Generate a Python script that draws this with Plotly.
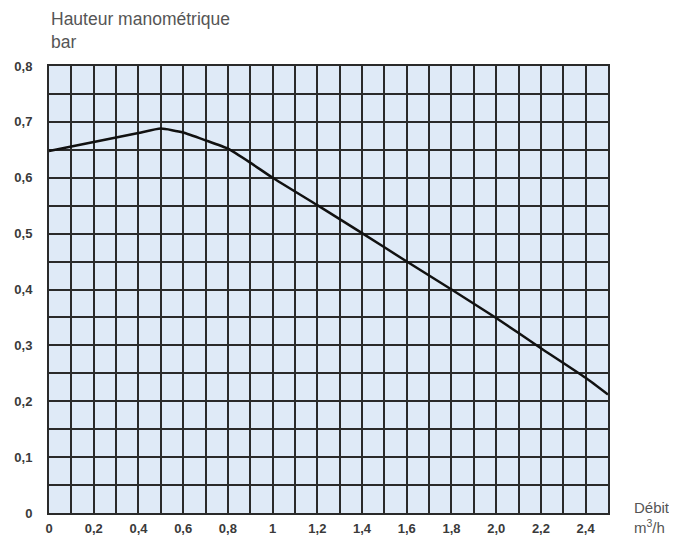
import plotly.graph_objects as go

# Data
debit = [0, 0.1, 0.2, 0.3, 0.4, 0.5, 0.6, 0.7, 0.8, 0.9, 1.0, 1.2, 1.4, 1.6, 1.8, 2.0, 2.2, 2.4, 2.5]
hauteur = [0.648, 0.656, 0.664, 0.672, 0.680, 0.688, 0.681, 0.667, 0.652, 0.627, 0.600,
           0.551, 0.501, 0.450, 0.400, 0.349, 0.295, 0.242, 0.212]

x_tickvals = [0, 0.2, 0.4, 0.6, 0.8, 1.0, 1.2, 1.4, 1.6, 1.8, 2.0, 2.2, 2.4]
x_ticktext = ["0", "0,2", "0,4", "0,6", "0,8", "1", "1,2", "1,4", "1,6", "1,8", "2,0", "2,2", "2,4"]
y_tickvals = [0, 0.1, 0.2, 0.3, 0.4, 0.5, 0.6, 0.7, 0.8]
y_ticktext = ["0", "0,1", "0,2", "0,3", "0,4", "0,5", "0,6", "0,7", "0,8"]

GRID = "#2a2a2a"
FONT = "Liberation Sans"
TICKFONT = dict(family=FONT, size=13, color="#3a3a3a")

fig = go.Figure()
fig.add_trace(go.Scatter(
    x=debit, y=hauteur, mode="lines",
    line=dict(color="#111111", width=2.5, shape="spline", smoothing=0.5),
    showlegend=False, hoverinfo="skip",
))

fig.update_layout(
    width=677, height=536,
    margin=dict(l=41, r=77, t=58, b=31),
    paper_bgcolor="white",
    plot_bgcolor="#dfeaf7",
    font=dict(family=FONT, size=12, color="#333333"),
    xaxis=dict(
        range=[0, 2.5], tickvals=x_tickvals,
        ticktext=["<b>%s</b>" % t for t in x_ticktext],
        showgrid=True, gridcolor=GRID, gridwidth=2,
        minor=dict(dtick=0.1, tick0=0, showgrid=True, gridcolor=GRID, gridwidth=2),
        showline=True, linecolor=GRID, linewidth=2, mirror=True,
        zeroline=False, ticks="", ticklabelstandoff=2, automargin=False,
        tickfont=TICKFONT,
    ),
    yaxis=dict(
        range=[0, 0.8], tickvals=y_tickvals,
        ticktext=["<b>%s</b>" % t for t in y_ticktext],
        showgrid=True, gridcolor=GRID, gridwidth=2,
        minor=dict(dtick=0.05, tick0=0, showgrid=True, gridcolor=GRID, gridwidth=2),
        showline=True, linecolor=GRID, linewidth=2, mirror=True,
        zeroline=False, ticks="", ticklabelstandoff=12, automargin=False,
        tickfont=TICKFONT,
    ),
    annotations=[
        dict(text="Hauteur manométrique<br>bar", xref="paper", yref="paper",
             x=0, y=1, xanchor="left", yanchor="bottom", yshift=12, xshift=0,
             showarrow=False, align="left",
             font=dict(family=FONT, size=17.5, color="#555555")),
        dict(text="Débit", xref="paper", yref="paper",
             x=1, y=0, xanchor="left", yanchor="middle", xshift=24, yshift=6,
             showarrow=False, align="left",
             font=dict(family=FONT, size=15, color="#555555")),
        dict(text="m<sup>3</sup>/h", xref="paper", yref="paper",
             x=1, y=0, xanchor="left", yanchor="middle", xshift=24, yshift=-13,
             showarrow=False, align="left",
             font=dict(family=FONT, size=15, color="#555555")),
    ],
)

fig.write_html("out.html")
